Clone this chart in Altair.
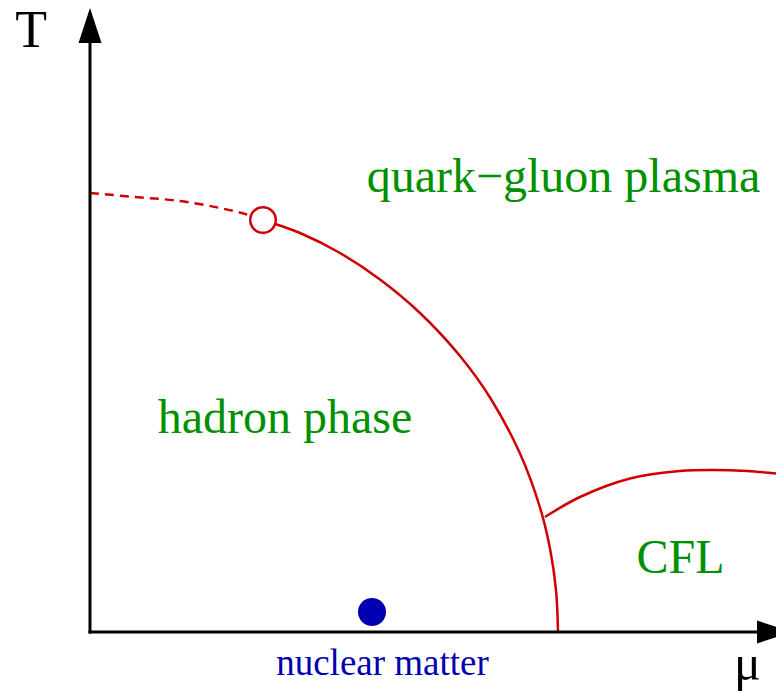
import altair as alt
import pandas as pd

# Phase boundaries in (mu, T) drawing units; origin at the axis corner
crossover_mu = [0, 45, 90, 130, 157, 173]
crossover_T = [439, 435, 431, 424, 417.5, 412]

hadron_mu = [173, 210, 250, 290, 330, 370, 400, 430, 450, 460, 466, 468]
hadron_T = [412, 399, 379, 352.5, 319, 276, 234.5, 178.5, 124.5, 83.5, 42, 0]

cfl_mu = [455, 490, 540, 590, 623, 657, 686]
cfl_T = [115, 135, 153.5, 161, 162, 161, 158.5]

critical_point = {"mu": [173], "T": [412]}
nuclear_matter = {"mu": [282], "T": [20]}

# Axis extents (line end, arrowhead centre)
t_axis_top = 595
t_arrow_T = 606.5
mu_axis_end = 670
mu_arrow_mu = 684.5

labels = {
    "text": ["quark\u2212gluon plasma", "hadron phase", "CFL"],
    "mu": [473.5, 195, 590.5],
    "T": [440, 199, 59],
}

RED = "#d00000"
GREEN = "#009000"
BLUE = "#0000b0"
FONT = "Liberation Serif"

xs = alt.Scale(domain=[-90, 686], nice=False, zero=False)
ys = alt.Scale(domain=[-61, 632], nice=False, zero=False)
X = lambda f="mu": alt.X(f"{f}:Q", scale=xs, axis=None)
Y = lambda f="T": alt.Y(f"{f}:Q", scale=ys, axis=None)

# axes
t_axis = alt.Chart(pd.DataFrame({"mu": [0], "T": [-1.5], "T2": [t_axis_top]})).mark_rule(
    color="black", strokeWidth=3).encode(x=X(), y=Y(), y2="T2:Q")
mu_axis = alt.Chart(pd.DataFrame({"mu": [-1.5], "mu2": [mu_axis_end], "T": [0]})).mark_rule(
    color="black", strokeWidth=3).encode(x=X(), x2="mu2:Q", y=Y())
t_arrow = alt.Chart(pd.DataFrame({"mu": [0], "T": [t_arrow_T]})).mark_point(
    shape="M0,-1L0.657,1L-0.657,1Z", size=1225, filled=True, color="black",
    opacity=1, strokeWidth=0).encode(x=X(), y=Y())
mu_arrow = alt.Chart(pd.DataFrame({"mu": [mu_arrow_mu], "T": [0]})).mark_point(
    shape="M1,0L-1,0.657L-1,-0.657Z", size=1225, filled=True, color="black",
    opacity=1, strokeWidth=0).encode(x=X(), y=Y())

# phase boundaries
crossover = alt.Chart(pd.DataFrame({"mu": crossover_mu, "T": crossover_T})).mark_line(
    color=RED, strokeWidth=2.5, strokeDash=[9, 6], interpolate="catmull-rom").encode(x=X(), y=Y())
hadron = alt.Chart(pd.DataFrame({"mu": hadron_mu, "T": hadron_T})).mark_line(
    color=RED, strokeWidth=2.5, interpolate="catmull-rom").encode(x=X(), y=Y())
cfl = alt.Chart(pd.DataFrame({"mu": cfl_mu, "T": cfl_T})).mark_line(
    color=RED, strokeWidth=2.5, interpolate="catmull-rom").encode(x=X(), y=Y())

cp = alt.Chart(pd.DataFrame(critical_point)).mark_point(
    shape="circle", size=650, filled=True, fill="white", stroke=RED,
    strokeWidth=2.5, opacity=1).encode(x=X(), y=Y())
nm = alt.Chart(pd.DataFrame(nuclear_matter)).mark_point(
    shape="circle", size=784, filled=True, color=BLUE, opacity=1,
    strokeWidth=0).encode(x=X(), y=Y())

# text
phase_labels = alt.Chart(pd.DataFrame(labels)).mark_text(
    font=FONT, fontSize=48, color=GREEN, align="center", baseline="alphabetic").encode(
    x=X(), y=Y(), text="text:N")
nm_label = alt.Chart(pd.DataFrame({"text": ["nuclear matter"], "mu": [292.5], "T": [-43]})).mark_text(
    font=FONT, fontSize=37, color=BLUE, align="center", baseline="alphabetic").encode(
    x=X(), y=Y(), text="text:N")
t_label = alt.Chart(pd.DataFrame({"text": ["T"], "mu": [-59], "T": [585]})).mark_text(
    font=FONT, fontSize=52, color="black", align="center", baseline="alphabetic").encode(
    x=X(), y=Y(), text="text:N")
mu_label = alt.Chart(pd.DataFrame({"text": ["\u03bc"], "mu": [657.5], "T": [-48]})).mark_text(
    font=FONT, fontSize=50, color="black", align="center", baseline="alphabetic").encode(
    x=X(), y=Y(), text="text:N")

chart = alt.layer(
    crossover, hadron, cfl, t_axis, mu_axis, t_arrow, mu_arrow, cp, nm,
    phase_labels, nm_label, t_label, mu_label,
).properties(
    width=776, height=693, padding=0, autosize=alt.AutoSizeParams(type="none"),
    background="white",
).configure_view(stroke=None)

chart.save("out.html", embed_options={"renderer": "svg", "actions": False})
